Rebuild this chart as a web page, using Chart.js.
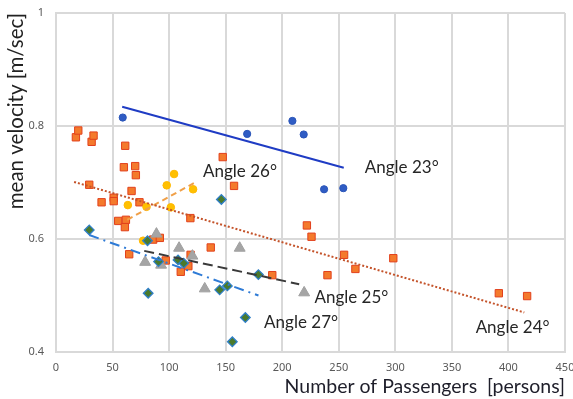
<!DOCTYPE html>
<html><head><meta charset="utf-8">
<script src="https://cdn.jsdelivr.net/npm/chart.js@4.4.1/dist/chart.umd.min.js"></script>
<style>html,body{margin:0;padding:0;background:#fff;}#wrap{width:573px;height:399px;}</style>
</head><body><div id="wrap"><canvas id="c" width="573" height="399"></canvas></div>
<script>
// Angle 23° (blue circles)
const a23X = [59, 169, 209, 219, 237, 254];
const a23Y = [0.815, 0.786, 0.809, 0.785, 0.688, 0.690];
// Angle 24° (orange squares)
const a24X = [17.6, 19.7, 31.5, 33.2, 61.2, 60, 70, 70.6, 29.4, 66.8, 51, 51, 40.3, 73.8, 55, 61.8, 60.9, 64.7, 85.9, 91.8, 97, 110.3, 119, 117, 118.8, 147.4, 157.4, 136.8, 191.2, 221.8, 225.9, 254.7, 264.7, 240, 298.2, 391.5, 416.5];
const a24Y = [0.780, 0.792, 0.772, 0.783, 0.765, 0.727, 0.729, 0.713, 0.696, 0.685, 0.673, 0.667, 0.665, 0.665, 0.632, 0.634, 0.621, 0.573, 0.599, 0.602, 0.562, 0.542, 0.572, 0.552, 0.637, 0.745, 0.694, 0.585, 0.536, 0.624, 0.604, 0.572, 0.547, 0.536, 0.566, 0.504, 0.499];
// Angle 25° (gray triangles)
const a25X = [78.8, 88.8, 92.9, 108.8, 120.6, 131.5, 162.4, 219.4];
const a25Y = [0.559, 0.609, 0.554, 0.584, 0.570, 0.512, 0.584, 0.505];
// Angle 26° (yellow circles)
const a26X = [63.5, 77, 80, 97.9, 101.5, 104.4, 121.2];
const a26Y = [0.660, 0.597, 0.657, 0.695, 0.656, 0.715, 0.688];
// Angle 27° (green diamonds)
const a27X = [29.4, 80.9, 81.5, 90.6, 107.9, 112.9, 144.7, 146.2, 151.5, 155.9, 167.4, 178.9];
const a27Y = [0.616, 0.597, 0.504, 0.560, 0.563, 0.557, 0.510, 0.670, 0.517, 0.418, 0.461, 0.537];
// Trend lines (end points)
const t23X = [58.5, 254.4], t23Y = [0.834, 0.726];
const t24X = [16, 414],     t24Y = [0.701, 0.470];
const t25X = [78, 215],     t25Y = [0.579, 0.520];
const t26X = [63, 122],     t26Y = [0.634, 0.699];
const t27X = [29.4, 179],   t27Y = [0.607, 0.500];
// Axis ticks
const xTicks = [0, 50, 100, 150, 200, 250, 300, 350, 400, 450];
const yTicks = [0.4, 0.6, 0.8, 1];
// Series labels
const labelText = ['Angle 23°', 'Angle 24°', 'Angle 25°', 'Angle 26°', 'Angle 27°'];
const labelX = [273, 371, 228.5, 130, 184];
const labelY = [0.726, 0.443, 0.496, 0.719, 0.4526];

const pts = (xs, ys) => xs.map((x, i) => ({x, y: ys[i]}));
const trend = (xs, ys, color, dash) => ({
  type: 'line', data: pts(xs, ys), showLine: true, borderColor: color, borderWidth: 2,
  borderDash: dash, pointRadius: 0, fill: false, order: 0
});

const labelPlugin = {
  id: 'seriesLabels',
  afterDatasetsDraw(chart) {
    const ctx = chart.ctx, xs = chart.scales.x, ys = chart.scales.y;
    ctx.save();
    ctx.font = '17px Lato, "Open Sans", sans-serif';
    ctx.fillStyle = '#262626';
    ctx.textAlign = 'left';
    ctx.textBaseline = 'middle';
    labelText.forEach((t, i) => ctx.fillText(t, xs.getPixelForValue(labelX[i]), ys.getPixelForValue(labelY[i])));
    ctx.restore();
  }
};

new Chart(document.getElementById('c'), {
  type: 'scatter',
  data: {
    datasets: [
      trend(t23X, t23Y, '#1f3cc4', []),
      trend(t24X, t24Y, '#c4532a', [2, 2]),
      trend(t25X, t25Y, '#3a3a3a', [10, 5]),
      trend(t26X, t26Y, '#f0a048', [6, 4]),
      trend(t27X, t27Y, '#2f7bd6', [10, 5, 2, 5]),
      {data: pts(a27X, a27Y), pointStyle: 'rectRot', pointRadius: 4.8, backgroundColor: '#4a7a2c', borderColor: '#2f7fc8', borderWidth: 1.3, order: 1},
      {data: pts(a23X, a23Y), pointStyle: 'circle', pointRadius: 3.6, backgroundColor: '#2f5cc4', borderColor: '#2a55b8', borderWidth: 1, order: 2},
      {data: pts(a26X, a26Y), pointStyle: 'circle', pointRadius: 3.8, backgroundColor: '#ffc000', borderColor: '#ffb800', borderWidth: 1, order: 3},
      {data: pts(a25X, a25Y), pointStyle: 'triangle', pointRadius: 6.3, backgroundColor: '#a5a5a5', borderColor: '#a0a0a0', borderWidth: 1, order: 4},
      {data: pts(a24X, a24Y), pointStyle: 'rect', pointRadius: 5.2, backgroundColor: '#f47a2c', borderColor: '#e2401c', borderWidth: 1, order: 5}
    ]
  },
  options: {
    responsive: false, animation: false, devicePixelRatio: 1,
    layout: {padding: {top: 13, right: 8, left: 0, bottom: 0}},
    plugins: {legend: {display: false}, tooltip: {enabled: false}},
    elements: {point: {hoverRadius: 0}},
    scales: {
      x: {
        type: 'linear', min: 0, max: 450,
        afterBuildTicks: s => { s.ticks = xTicks.map(v => ({value: v})); },
        afterFit: s => { s.height = 47; s.paddingLeft = 0; s.paddingRight = 0; },
        grid: {color: '#d9d9d9', lineWidth: 2, drawTicks: false},
        border: {color: '#d9d9d9', width: 2},
        ticks: {padding: 9, color: '#595959', font: {family: '"Noto Sans", sans-serif', size: 11}, maxRotation: 0},
        title: {display: true, text: 'Number of Passengers  [persons]', align: 'end', color: '#1e1e2a',
                font: {family: 'Lato, "Open Sans", sans-serif', size: 19.5}, padding: {top: 0, bottom: 1}}
      },
      y: {
        type: 'linear', min: 0.4, max: 1,
        afterBuildTicks: s => { s.ticks = yTicks.map(v => ({value: v})); },
        afterFit: s => { s.width = 56; s.paddingTop = 0; s.paddingBottom = 0; },
        grid: {color: '#d9d9d9', lineWidth: 2, drawTicks: false},
        border: {color: '#d9d9d9', width: 2},
        ticks: {padding: 12, color: '#595959', font: {family: '"Noto Sans", sans-serif', size: 11},
                callback: v => String(Math.round(v * 10) / 10)},
        title: {display: true, text: 'mean velocity [m/sec]', align: 'end', color: '#222222',
                font: {family: 'Lato, "Open Sans", sans-serif', size: 20.5}, padding: {top: 4, bottom: 0}}
      }
    }
  },
  plugins: [labelPlugin]
});
</script></body></html>
